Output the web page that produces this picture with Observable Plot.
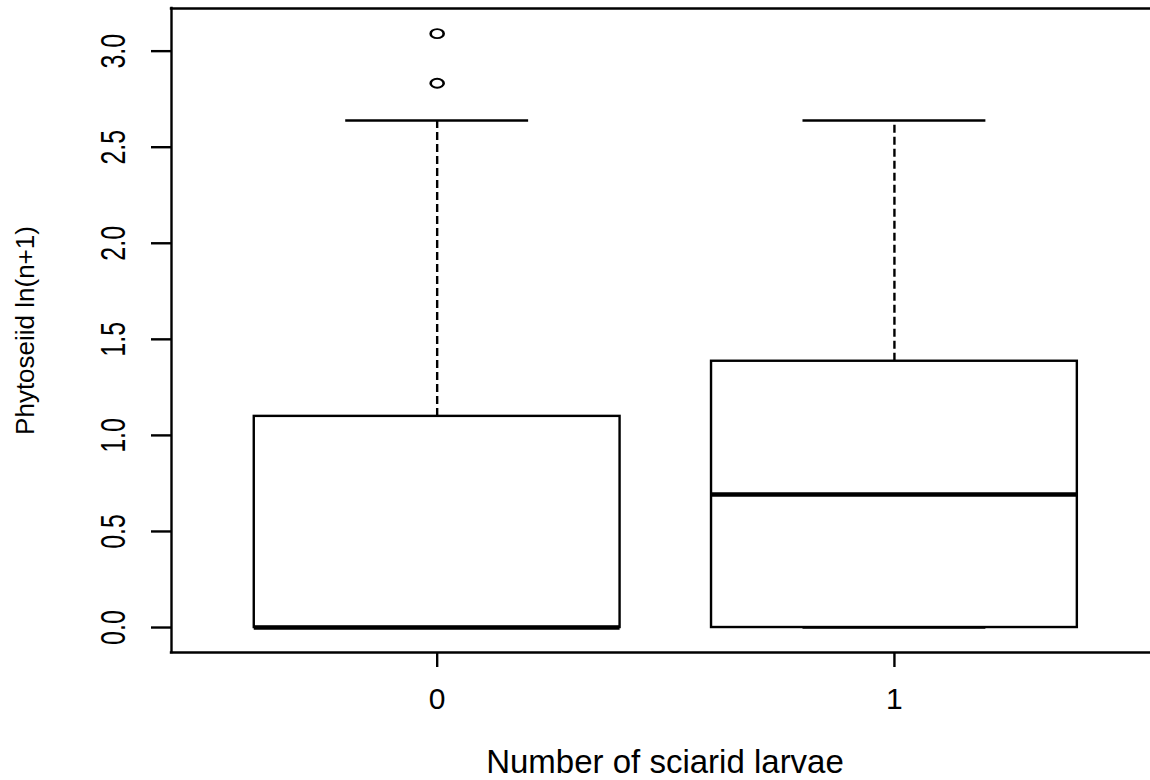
<!DOCTYPE html>
<html><head><meta charset="utf-8">
<script src="https://cdn.jsdelivr.net/npm/d3@7"></script>
<script src="https://cdn.jsdelivr.net/npm/@observablehq/plot@0.6"></script>
<style>body{margin:0;background:#fff;} svg{display:block;}</style>
</head><body><div id="chart"></div>
<script>
const groups = ["0", "1"];
const lowerQuartile = [0, 0];
const median = [0, 0.693];
const upperQuartile = [1.099, 1.386];
const whiskerLow = [0, 0];
const whiskerHigh = [2.639, 2.639];
const outlierGroup = ["0", "0"];
const outlierValue = [3.091, 2.833];
const yTicks = [0, 0.5, 1, 1.5, 2, 2.5, 3];
const xTitle = "Number of sciarid larvae";
const yTitle = "Phytoseiid ln(n+1)";

const boxes = groups.map((g, i) => ({g, pos: i + 1, q1: lowerQuartile[i], med: median[i], q3: upperQuartile[i], lo: whiskerLow[i], hi: whiskerHigh[i]}));
const outliers = outlierValue.map((v, i) => ({pos: groups.indexOf(outlierGroup[i]) + 1, v}));
const yTickLabels = yTicks.map(d => d.toFixed(1));

const xDomain = [0.419, 2.56];
const yDomain = [-0.130, 3.222];
const halfBox = 0.4, halfCap = 0.2;
const font = "'Liberation Sans', Arial, sans-serif";
const lw = 2.4;

const chart = Plot.plot({
  width: 1150, height: 780,
  marginLeft: 171, marginRight: 0, marginTop: 8, marginBottom: 128,
  style: {fontFamily: font, background: "#fff", color: "#000", overflow: "visible"},
  x: {type: "linear", domain: xDomain, axis: null},
  y: {type: "linear", domain: yDomain, axis: null},
  marks: [
    Plot.ruleX(boxes, {x: "pos", y1: "q3", y2: "hi", stroke: "#000", strokeWidth: lw, strokeDasharray: "8,4"}),
    Plot.ruleX(boxes, {x: "pos", y1: "lo", y2: "q1", stroke: "#000", strokeWidth: lw, strokeDasharray: "8,4"}),
    Plot.ruleY(boxes, {y: "hi", x1: d => d.pos - halfCap, x2: d => d.pos + halfCap, stroke: "#000", strokeWidth: lw}),
    Plot.ruleY(boxes, {y: "lo", x1: d => d.pos - halfCap, x2: d => d.pos + halfCap, stroke: "#000", strokeWidth: lw}),
    Plot.rect(boxes, {x1: d => d.pos - halfBox, x2: d => d.pos + halfBox, y1: "q1", y2: "q3", fill: "#fff", stroke: "#000", strokeWidth: lw}),
    Plot.ruleY(boxes, {y: "med", x1: d => d.pos - halfBox, x2: d => d.pos + halfBox, stroke: "#000", strokeWidth: 4.5}),
    Plot.dot(outliers, {x: "pos", y: "v", r: 4.5, stroke: "#000", strokeWidth: 1.8, fill: "none"}),
    Plot.ruleX([xDomain[0]], {stroke: "#000", strokeWidth: lw, strokeLinecap: "square"}),
    Plot.ruleY([yDomain[0], yDomain[1]], {stroke: "#000", strokeWidth: lw, strokeLinecap: "square"}),
    Plot.axisX({ticks: [1, 2], tickSize: 15, tickPadding: 20, tickFormat: d => groups[d - 1], fontSize: 30, strokeWidth: lw, label: null}),
    Plot.axisY({ticks: yTicks, tickSize: 20, tickFormat: () => "", strokeWidth: lw, label: null}),
    Plot.text(yTicks, {y: d => d, text: d => d.toFixed(1), frameAnchor: "left", dx: -47, rotate: -90, textAnchor: "middle", lineAnchor: "bottom", fontSize: 25, fill: "#000"}),
    Plot.text([xTitle], {text: d => d, frameAnchor: "bottom", dx: 4, dy: 120, lineAnchor: "bottom", fontSize: 33, fill: "#000"}),
    Plot.text([yTitle], {text: d => d, frameAnchor: "left", dx: -138, rotate: -90, textAnchor: "middle", lineAnchor: "bottom", fontSize: 26, fill: "#000"})
  ]
});

document.getElementById("chart").appendChild(chart);

const svgRoot = chart.tagName.toLowerCase() === "svg" ? chart : chart.querySelector("svg");
// stretch the rotated y tick labels horizontally, as in the reference
svgRoot.querySelectorAll("text").forEach(el => {
  const t = el.getAttribute("transform") || "";
  if (yTickLabels.includes(el.textContent.trim()) && t.includes("rotate(") && !t.includes("scale(")) {
    el.setAttribute("transform", t.replace("rotate(", "scale(1.4,1) rotate("));
  }
});
// outlier circles appear as wide ellipses in the reference
svgRoot.querySelectorAll("circle").forEach(el => {
  const cx = +el.getAttribute("cx") || 0, cy = +el.getAttribute("cy") || 0;
  el.setAttribute("transform", `translate(${cx},${cy}) scale(1.45,1) translate(${-cx},${-cy})`);
});
</script>
</body></html>
